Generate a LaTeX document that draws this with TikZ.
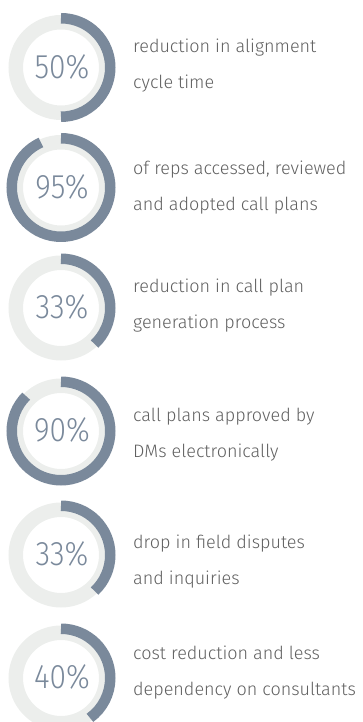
\documentclass[tikz,border=0pt]{standalone}
\usepackage{fontspec}
\usepackage{tikz}
\usetikzlibrary{positioning}
\newfontfamily\pctfont{Fira Sans Light}
\newfontfamily\txtfont{Fira Sans Light}
\definecolor{ringblue}{RGB}{122,137,155}
\definecolor{ringgrey}{RGB}{236,238,236}
\definecolor{textgrey}{RGB}{96,96,96}

\begin{document}
\begin{tikzpicture}[x=1pt, y=1pt,
    pct/.style={font=\pctfont\fontsize{34}{34}\selectfont, text=ringblue, inner sep=0pt},
    txt/.style={font=\txtfont\fontsize{18}{18}\selectfont, text=textgrey, inner sep=0pt, anchor=base west}]
\useasboundingbox (0,0) rectangle (363,722);
\foreach \id/\cy/\e/\val/\dy/\la/\lb in {
    a/654.5/-90/50/15/{reduction in alignment}/{cycle time},
    b/534.5/-246/95/12.5/{of reps accessed, reviewed}/{and adopted call plans},
    c/414/-47/33/15.7/{reduction in call plan}/{generation process},
    d/291/-225/90/9.3/{call plans approved by}/{DMs electronically},
    e/167/-47/33/6.7/{drop in field disputes}/{and inquiries},
    f/44/-54/40/18/{cost reduction and less}/{dependency on consultants}} {
  \node[pct] (\id) at (62,\cy+1) {\scalebox{.88}[1]{\val\%}};
  \draw[ringgrey, line width=14.5pt] (61,\cy) circle[radius=45.25];
  \draw[ringblue, line width=10.5pt] (61,\cy) ++(90:49.25) arc[start angle=90, end angle=\e, radius=49.25];
  \node[txt] (\id1) at (133,\cy+\dy) {\la};
  \node[txt, below=36pt of \id1.base west, anchor=base west] (\id2) {\lb};
}
\end{tikzpicture}
\end{document}
